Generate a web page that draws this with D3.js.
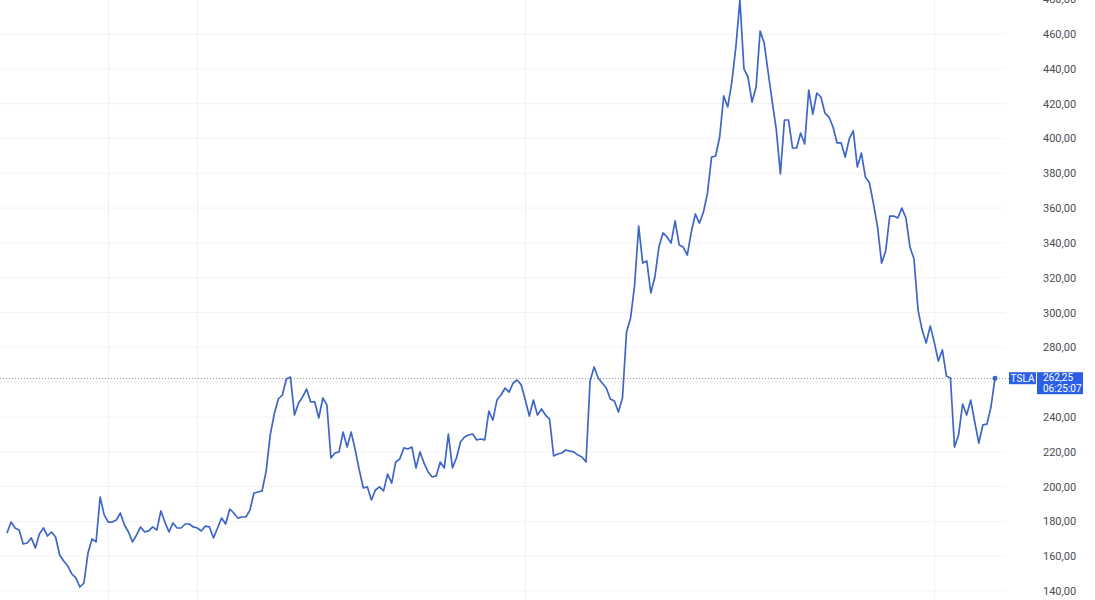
<!DOCTYPE html>
<html>
<head>
<meta charset="utf-8">
<script src="https://cdn.jsdelivr.net/npm/d3@7"></script>
<style>
html,body{margin:0;padding:0;background:#fff;}
svg{display:block;}
</style>
</head>
<body>
<svg id="chart" width="1095" height="600"></svg>
<script>
// Daily closing prices (TSLA)
const closes = [
173.3,179.6,176.2,175.0,167.0,167.6,170.5,164.7,172.7,176.2,
171.6,173.9,171.0,160.7,157.2,154.4,149.8,147.5,142.3,144.6,
161.8,169.9,168.2,194.0,183.7,179.6,179.6,180.8,184.8,177.9,
173.9,168.2,172.2,176.8,173.9,174.5,176.8,175.0,186.0,179.6,
173.9,179.1,176.2,176.2,178.5,178.5,176.8,176.2,174.5,177.3,
176.8,170.5,176.2,181.9,178.5,187.1,184.8,181.9,182.5,182.5,
186.5,196.3,196.9,197.5,208.9,229.6,241.7,250.3,252.6,261.8,
262.9,241.1,248.0,251.5,256.0,248.6,248.6,239.4,250.9,246.9,
216.4,219.3,219.9,231.3,222.7,231.3,221.0,209.5,199.2,199.8,
192.3,198.0,199.8,197.5,207.2,202.0,214.1,215.8,222.2,221.6,
222.7,210.7,219.9,213.5,208.4,205.5,206.1,214.1,210.7,230.2,
210.7,216.4,225.6,228.5,229.6,230.2,226.8,227.3,226.8,243.4,
238.2,249.7,252.6,256.6,254.3,259.5,261.2,258.4,249.7,240.5,
249.7,241.1,244.6,241.1,238.8,217.6,218.7,219.3,221.0,220.4,
219.9,218.1,217.0,214.1,260.6,268.7,262.4,259.5,256.6,250.3,
249.2,242.8,250.9,288.8,296.8,315.8,349.7,328.4,329.6,311.2,
320.4,337.6,345.7,343.4,339.9,352.6,338.8,337.6,333.0,346.2,
356.6,351.4,357.7,368.7,389.3,389.9,400.8,424.4,418.1,432.4,
452.5,479.5,439.9,435.3,420.9,429.6,461.7,454.8,437.6,420.9,
404.8,379.6,410.6,410.6,394.5,394.5,403.1,396.8,427.8,414.0,
426.1,423.8,414.6,412.3,406.6,397.4,397.4,389.3,399.7,404.3,
383.6,391.6,377.8,374.4,362.3,349.1,328.4,335.3,355.4,355.4,
354.3,360.0,354.3,337.6,330.7,301.4,289.9,282.5,292.2,283.0,
272.1,278.5,263.5,262.4,222.7,229.6,247.4,241.1,249.7,237.1,
225.0,235.4,235.9,245.7,262.25
];
const priceTicks = [140,160,180,200,220,240,260,280,300,320,340,360,380,400,420,440,460,480];
const gridDays = [25, 47, 128, 229];
const tickerName = "TSLA";
const lastPriceText = "262,25";
const lastTimeText = "06:25:07";

const fmt = v => d3.format(".2f")(v).replace(".", ",");

const svg = d3.select("#chart");
const W = 1095, H = 600;
const x = d3.scaleLinear().domain([0, closes.length - 1]).range([7, 995]);
const y = d3.scaleLinear().domain([140, 460]).range([591, 34]);

const last = closes[closes.length - 1];
const yl = y(last);

// horizontal grid
svg.append("g").selectAll("line").data(priceTicks).join("line")
  .attr("x1", 0).attr("x2", 1005)
  .attr("y1", d => y(d)).attr("y2", d => y(d))
  .attr("stroke", "#f3f4f6").attr("stroke-width", 1);

// vertical grid
svg.append("g").selectAll("line").data(gridDays).join("line")
  .attr("x1", d => Math.round(x(d)) + 0.5).attr("x2", d => Math.round(x(d)) + 0.5)
  .attr("y1", 0).attr("y2", H)
  .attr("stroke", "#f1f2f4").attr("stroke-width", 1);

// right axis (labels hidden under the last-price box are not drawn)
const visibleTicks = priceTicks.filter(d => Math.abs(y(d) - (yl + 5)) > 14);
const axis = d3.axisRight(y).tickValues(visibleTicks).tickSize(0).tickPadding(0).tickFormat(fmt);
const gAxis = svg.append("g").attr("transform", "translate(1043,0)").call(axis);
gAxis.select(".domain").remove();
gAxis.selectAll("text")
  .attr("font-family", "Roboto, 'Noto Sans', sans-serif")
  .attr("font-size", 11)
  .attr("fill", "#4d4d52");

// last-price dotted line
svg.append("line")
  .attr("x1", 0).attr("x2", 1009)
  .attr("y1", Math.round(yl) + 0.5).attr("y2", Math.round(yl) + 0.5)
  .attr("stroke", "#9a9ca3").attr("stroke-width", 1)
  .attr("stroke-dasharray", "1,2");

// price line
const line = d3.line().x((d, i) => x(i)).y(d => y(d));
svg.append("path")
  .datum(closes)
  .attr("d", line)
  .attr("fill", "none")
  .attr("stroke", "#3e66c6")
  .attr("stroke-width", 1.7)
  .attr("stroke-linejoin", "round");

// end dot
svg.append("circle")
  .attr("cx", x(closes.length - 1)).attr("cy", yl)
  .attr("r", 2.5).attr("fill", "#3e66c6");

// ticker label
svg.append("rect").attr("x", 1009).attr("y", yl - 6).attr("width", 27).attr("height", 12)
  .attr("fill", "#2b5fe6");
svg.append("text").attr("x", 1022.5).attr("y", yl).attr("dy", "0.35em")
  .attr("text-anchor", "middle").attr("fill", "#fff")
  .attr("font-family", "Roboto, sans-serif").attr("font-size", 10)
  .text(tickerName);

// price label
svg.append("rect").attr("x", 1037).attr("y", yl - 6).attr("width", 46).attr("height", 22)
  .attr("fill", "#2b5fe6");
svg.append("text").attr("x", 1043).attr("y", yl - 0.5).attr("dy", "0.35em")
  .attr("fill", "#fff").attr("font-family", "Roboto, sans-serif").attr("font-size", 10)
  .text(lastPriceText);
svg.append("text").attr("x", 1043).attr("y", yl + 10).attr("dy", "0.35em")
  .attr("fill", "#fff").attr("font-family", "Roboto, sans-serif").attr("font-size", 10)
  .text(lastTimeText);
</script>
</body>
</html>
